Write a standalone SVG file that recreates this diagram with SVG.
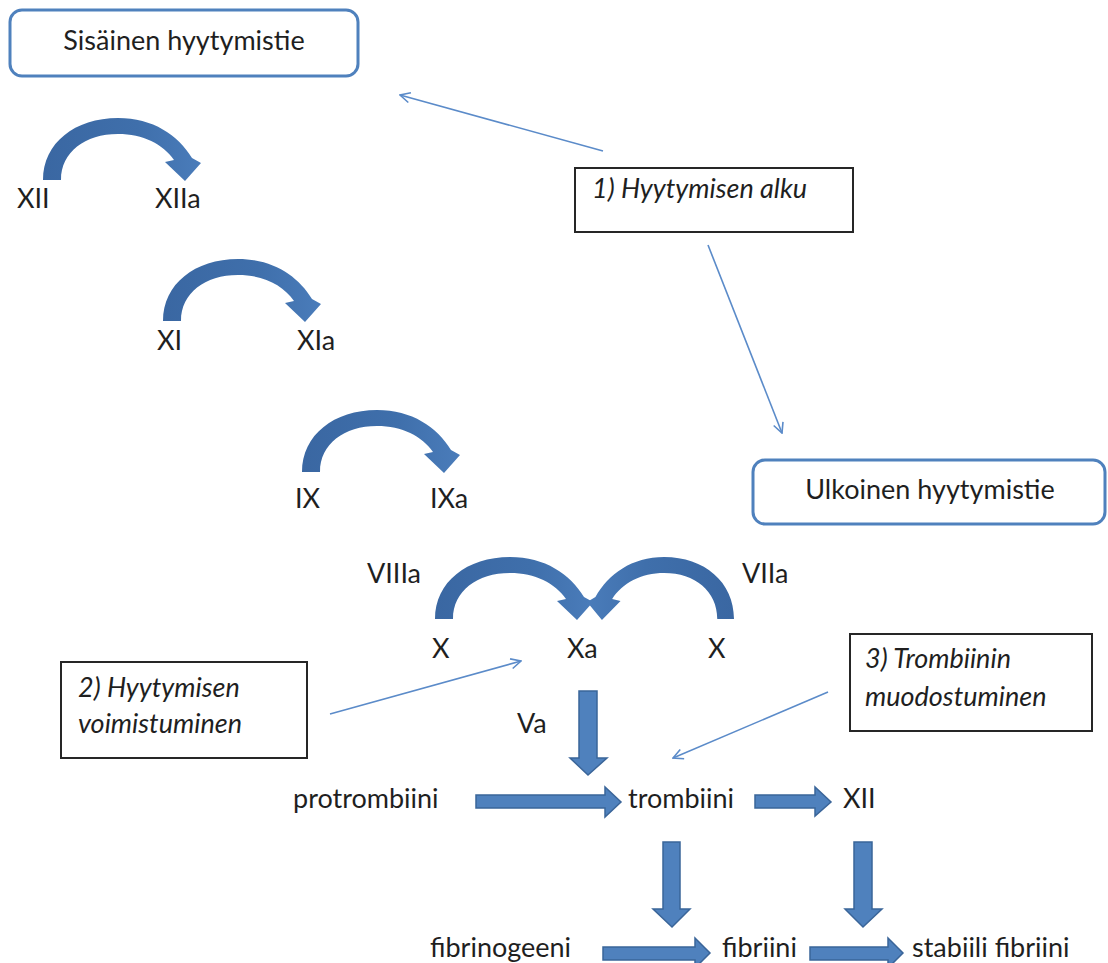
<svg xmlns="http://www.w3.org/2000/svg" width="1108" height="963" viewBox="0 0 1108 963">
<style>
text{font-family:Lato,"Open Sans","Liberation Sans",sans-serif;font-size:27px;fill:#1f1f1f}
.it{font-style:italic}
.rbox{fill:#fff;stroke:#4f81bd;stroke-width:3}
.box{fill:#fff;stroke:#262626;stroke-width:2}
.blk{fill:#4f81bd;stroke:#3a6599;stroke-width:1.5}
.crv{fill:url(#cg)}
.con{fill:none;stroke:#5b8bc9;stroke-width:1.6}
</style>
<defs>
<linearGradient id="cg" x1="0" y1="0" x2="1" y2="0">
<stop offset="0" stop-color="#3a67a2"/>
<stop offset="0.6" stop-color="#3f6fab"/>
<stop offset="1" stop-color="#4a7cba"/>
</linearGradient>
<path id="curve" d="M0,0 C0,-37 32,-62 75,-62 C110,-62 135,-45 149,-22 L158,-17 L142,1 L122,-18 L131,-20 C120,-36 100,-46 75,-46 C42,-46 18,-28 18,0 Z"/>
<marker id="open" viewBox="0 0 12 12" refX="11" refY="6" markerWidth="12" markerHeight="12" markerUnits="userSpaceOnUse" orient="auto">
<path d="M1,1 L11,6 L1,11" fill="none" stroke="#5b8bc9" stroke-width="1.6"/>
</marker>
</defs>
<rect width="1108" height="963" fill="#fff"/>

<g id="connectors">
<line class="con" x1="603" y1="151" x2="400" y2="95" marker-end="url(#open)"/>
<line class="con" x1="708" y1="245" x2="782" y2="433" marker-end="url(#open)"/>
<line class="con" x1="330" y1="714" x2="521" y2="661" marker-end="url(#open)"/>
<line class="con" x1="828" y1="692" x2="673" y2="758" marker-end="url(#open)"/>
</g>

<g id="node-sisainen">
<rect class="rbox" x="10" y="10" width="348" height="66" rx="12"/>
<text x="184" y="50" text-anchor="middle">Sisäinen hyytymistie</text>
</g>
<g id="node-ulkoinen">
<rect class="rbox" x="753" y="460" width="352" height="64" rx="12"/>
<text x="930" y="499" text-anchor="middle">Ulkoinen hyytymistie</text>
</g>
<g id="node-alku">
<rect class="box" x="575" y="168" width="278" height="64"/>
<text class="it" x="592" y="198">1) Hyytymisen alku</text>
</g>
<g id="node-voimistuminen">
<rect class="box" x="61" y="662" width="246" height="96"/>
<text class="it" x="78" y="697">2) Hyytymisen</text>
<text class="it" x="78" y="733">voimistuminen</text>
</g>
<g id="node-trombiinin">
<rect class="box" x="850" y="634" width="242" height="97"/>
<text class="it" x="865" y="668">3) Trombiinin</text>
<text class="it" x="865" y="706">muodostuminen</text>
</g>

<g id="curved-arrows">
<use href="#curve" class="crv" transform="translate(43,180)"/>
<use href="#curve" class="crv" transform="translate(163,321)"/>
<use href="#curve" class="crv" transform="translate(302,472)"/>
<use href="#curve" class="crv" transform="translate(435,619)"/>
<use href="#curve" class="crv" transform="translate(734,619) scale(-0.93,1)"/>
</g>

<g id="block-arrows">
<path class="blk" d="M579,691 H597 V758 H607 L588,775 L570,758 H579 Z"/>
<path class="blk" d="M663,842 H680 V909 H690 L672,927 L653,909 H663 Z"/>
<path class="blk" d="M854,842 H872 V909 H882 L863,927 L845,909 H854 Z"/>
<path class="blk" d="M476,795 H605 V787 L621,802 L605,817 V808 H476 Z"/>
<path class="blk" d="M755,795 H815 V787 L831,802 L815,816 V808 H755 Z"/>
<path class="blk" d="M603,947 H695 V938 L710,953 L695,968 V960 H603 Z"/>
<path class="blk" d="M810,947 H888 V938 L903,953 L888,968 V960 H810 Z"/>
</g>

<g id="node-XII"><text x="17" y="208">XII</text></g>
<g id="node-XIIa"><text x="155" y="208">XIIa</text></g>
<g id="node-XI"><text x="157" y="350">XI</text></g>
<g id="node-XIa"><text x="297" y="350">XIa</text></g>
<g id="node-IX"><text x="295" y="508">IX</text></g>
<g id="node-IXa"><text x="430" y="508">IXa</text></g>
<g id="node-VIIIa"><text x="367" y="583">VIIIa</text></g>
<g id="node-VIIa"><text x="742" y="583">VIIa</text></g>
<g id="node-X1"><text x="432" y="658">X</text></g>
<g id="node-Xa"><text x="567" y="658">Xa</text></g>
<g id="node-X2"><text x="708" y="658">X</text></g>
<g id="node-Va"><text x="517" y="733">Va</text></g>
<g id="node-protrombiini"><text x="293" y="808">protrombiini</text></g>
<g id="node-trombiini"><text x="628" y="808">trombiini</text></g>
<g id="node-XII2"><text x="843" y="808">XII</text></g>
<g id="node-fibrinogeeni"><text x="430" y="957">fibrinogeeni</text></g>
<g id="node-fibriini"><text x="722" y="957">fibriini</text></g>
<g id="node-stabiili"><text x="912" y="957">stabiili fibriini</text></g>
</svg>
